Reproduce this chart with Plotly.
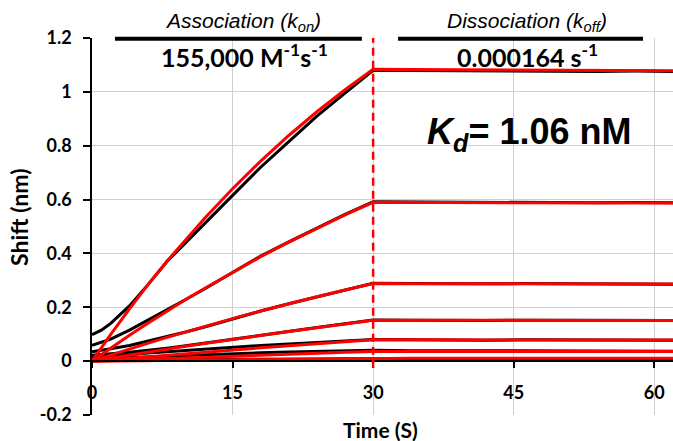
import plotly.graph_objects as go

# ---- data ----
time_s = [0, 1, 2, 4, 6, 8, 10, 12, 15, 18, 21, 24, 27, 30,
          34, 38, 42, 46, 50, 54, 58, 62]

measured_1 = [0.098, 0.115, 0.14, 0.205, 0.285, 0.37, 0.44, 0.51, 0.615, 0.72, 0.815, 0.91, 0.995, 1.08,
              1.079, 1.078, 1.077, 1.078, 1.077, 1.076, 1.077, 1.076]
measured_2 = [0.059, 0.07, 0.082, 0.115, 0.152, 0.19, 0.229, 0.268, 0.33, 0.39, 0.443, 0.495, 0.545, 0.592,
              0.591, 0.59, 0.589, 0.588, 0.589, 0.588, 0.589, 0.588]
measured_3 = [0.035, 0.04, 0.046, 0.058, 0.074, 0.09, 0.108, 0.127, 0.157, 0.186, 0.213, 0.239, 0.264, 0.289,
              0.288, 0.287, 0.287, 0.288, 0.288, 0.287, 0.287, 0.286]
measured_4 = [0.022, 0.024, 0.027, 0.033, 0.04, 0.048, 0.057, 0.067, 0.082, 0.097, 0.111, 0.125, 0.139, 0.153,
              0.152, 0.151, 0.151, 0.152, 0.152, 0.151, 0.151, 0.151]
measured_5 = [0.015, 0.017, 0.019, 0.024, 0.03, 0.035, 0.04, 0.045, 0.052, 0.058, 0.064, 0.07, 0.075, 0.08,
              0.079, 0.078, 0.078, 0.079, 0.079, 0.078, 0.078, 0.078]
measured_6 = [0.008, 0.009, 0.01, 0.012, 0.015, 0.018, 0.021, 0.024, 0.028, 0.031, 0.034, 0.036, 0.038, 0.04,
              0.039, 0.039, 0.038, 0.038, 0.038, 0.038, 0.038, 0.037]
measured_7 = [0.003, 0.003, 0.003, 0.004, 0.004, 0.005, 0.005, 0.006, 0.006, 0.007, 0.008, 0.008, 0.009, 0.009,
              0.008, 0.007, 0.007, 0.007, 0.006, 0.006, 0.006, 0.006]

fit_1 = [0, 0.050, 0.0995, 0.194, 0.285, 0.371, 0.452, 0.530, 0.640, 0.743, 0.838, 0.926, 1.008, 1.084,
         1.0833, 1.0826, 1.0819, 1.0812, 1.0804, 1.0797, 1.0790, 1.0783]
fit_2 = [0, 0.0246, 0.0487, 0.0959, 0.1417, 0.186, 0.229, 0.270, 0.330, 0.388, 0.442, 0.494, 0.543, 0.590,
         0.5896, 0.5892, 0.5888, 0.5885, 0.5881, 0.5877, 0.5873, 0.5869]
fit_3 = [0, 0.0115, 0.0229, 0.0452, 0.067, 0.0882, 0.1088, 0.129, 0.158, 0.186, 0.213, 0.239, 0.264, 0.288,
         0.2878, 0.2876, 0.2874, 0.2872, 0.2871, 0.2869, 0.2867, 0.2865]
fit_4 = [0, 0.0058, 0.0115, 0.0228, 0.0338, 0.0447, 0.0553, 0.0657, 0.081, 0.0955, 0.1098, 0.1237, 0.1375, 0.152,
         0.1519, 0.1518, 0.1517, 0.1516, 0.1515, 0.1514, 0.1513, 0.1512]
fit_5 = [0, 0.0029, 0.0058, 0.0115, 0.0172, 0.0228, 0.0283, 0.0337, 0.0418, 0.0497, 0.0575, 0.0651, 0.0725, 0.079,
         0.0790, 0.0789, 0.0789, 0.0788, 0.0788, 0.0787, 0.0787, 0.0786]
fit_6 = [0, 0.0013, 0.0026, 0.0052, 0.0077, 0.0102, 0.0127, 0.0152, 0.0188, 0.0224, 0.026, 0.0294, 0.0328, 0.036,
         0.036, 0.036, 0.0359, 0.0359, 0.0359, 0.0359, 0.0358, 0.0358]
fit_7 = [0, 0.0004, 0.0008, 0.0015, 0.0023, 0.003, 0.0037, 0.0045, 0.0056, 0.0067, 0.0077, 0.0088, 0.0098, 0.011,
         0.011, 0.011, 0.011, 0.011, 0.011, 0.0109, 0.0109, 0.0109]

x_tick_vals = [0, 15, 30, 45, 60]
x_tick_labels = ["0", "15", "30", "45", "60"]
y_tick_vals = [-0.2, 0, 0.2, 0.4, 0.6, 0.8, 1.0, 1.2]
y_tick_labels = ["-0.2", "0", "0.2", "0.4", "0.6", "0.8", "1", "1.2"]

association_time = 30
kon_label = "155,000 M<sup>-1</sup>s<sup>-1</sup>"
koff_label = "0.000164 s<sup>-1</sup>"
kd_label = "<i>K<sub>d</sub></i>= 1.06 nM"

measured = [measured_1, measured_2, measured_3, measured_4, measured_5, measured_6, measured_7]
fits = [fit_1, fit_2, fit_3, fit_4, fit_5, fit_6, fit_7]

fig = go.Figure()
for m in measured:
    fig.add_trace(go.Scatter(x=time_s, y=m, mode="lines",
                             line=dict(color="black", width=3), showlegend=False))
for f in fits:
    fig.add_trace(go.Scatter(x=time_s, y=f, mode="lines",
                             line=dict(color="#ff0000", width=3), showlegend=False))

tick_font = dict(family="Lato", size=18, color="black", weight="bold")

fig.update_layout(
    width=673, height=441,
    margin=dict(l=92, r=0, t=38, b=26),
    paper_bgcolor="white", plot_bgcolor="white",
    showlegend=False,
    xaxis=dict(range=[0, 62], tickvals=x_tick_vals, ticktext=x_tick_labels,
               showgrid=True, gridcolor="#d0d0d0", gridwidth=1,
               zeroline=False, showline=True, linecolor="black", linewidth=1.5,
               ticks="outside", ticklen=6, tickcolor="black", tickwidth=1.5,
               tickfont=tick_font, anchor="free", position=0.2 / 1.4,
               ticklabelstandoff=10),
    yaxis=dict(range=[-0.2, 1.2], tickvals=y_tick_vals, ticktext=y_tick_labels,
               showgrid=True, gridcolor="#d0d0d0", gridwidth=1,
               zeroline=False, showline=True, linecolor="black", linewidth=1.5,
               ticks="outside", ticklen=7, tickcolor="black", tickwidth=1.5,
               tickfont=tick_font, ticklabelstandoff=8),
)

# dashed separator at end of association
fig.add_shape(type="line", xref="x", yref="y", x0=association_time, x1=association_time,
              y0=-0.025, y1=1.2, line=dict(color="#ff0000", width=2.5, dash="8px,5px"))
# phase bars
fig.add_shape(type="line", xref="x", yref="paper", x0=2.45, x1=28.8, y0=0.998, y1=0.998,
              line=dict(color="black", width=4))
fig.add_shape(type="line", xref="x", yref="paper", x0=32.66, x1=58.8, y0=0.998, y1=0.998,
              line=dict(color="black", width=4))


# convert pixel positions to paper coords
def px(xp, yp):
    return (xp - 92) / (673 - 92), (415 - yp) / (415 - 38)


for text, xp, yp, font in [
    ("<i>Association (k<sub>on</sub>)</i>", 243, 22, dict(family="Liberation Sans", size=21, color="black")),
    ("<i>Dissociation (k<sub>off</sub>)</i>", 527, 22, dict(family="Liberation Sans", size=21, color="black")),
    (kon_label, 244, 55, dict(family="Lato", size=25, color="black", weight="bold")),
    (koff_label, 527, 56, dict(family="Lato", size=25, color="black", weight="bold")),
    (kd_label, 529, 134, dict(family="Liberation Sans", size=36, color="black", weight="bold")),
    ("Time (S)", 380, 429, dict(family="Lato", size=21, color="black", weight="bold")),
]:
    xx, yy = px(xp, yp)
    fig.add_annotation(text=text, x=xx, y=yy, xref="paper", yref="paper",
                       showarrow=False, xanchor="center", yanchor="middle", font=font)

xx, yy = px(19, 217)
fig.add_annotation(text="Shift (nm)", x=xx, y=yy, xref="paper", yref="paper",
                   showarrow=False, textangle=-90, xanchor="center", yanchor="middle",
                   font=dict(family="Lato", size=23, color="black", weight="bold"))

fig.write_html("out.html")
